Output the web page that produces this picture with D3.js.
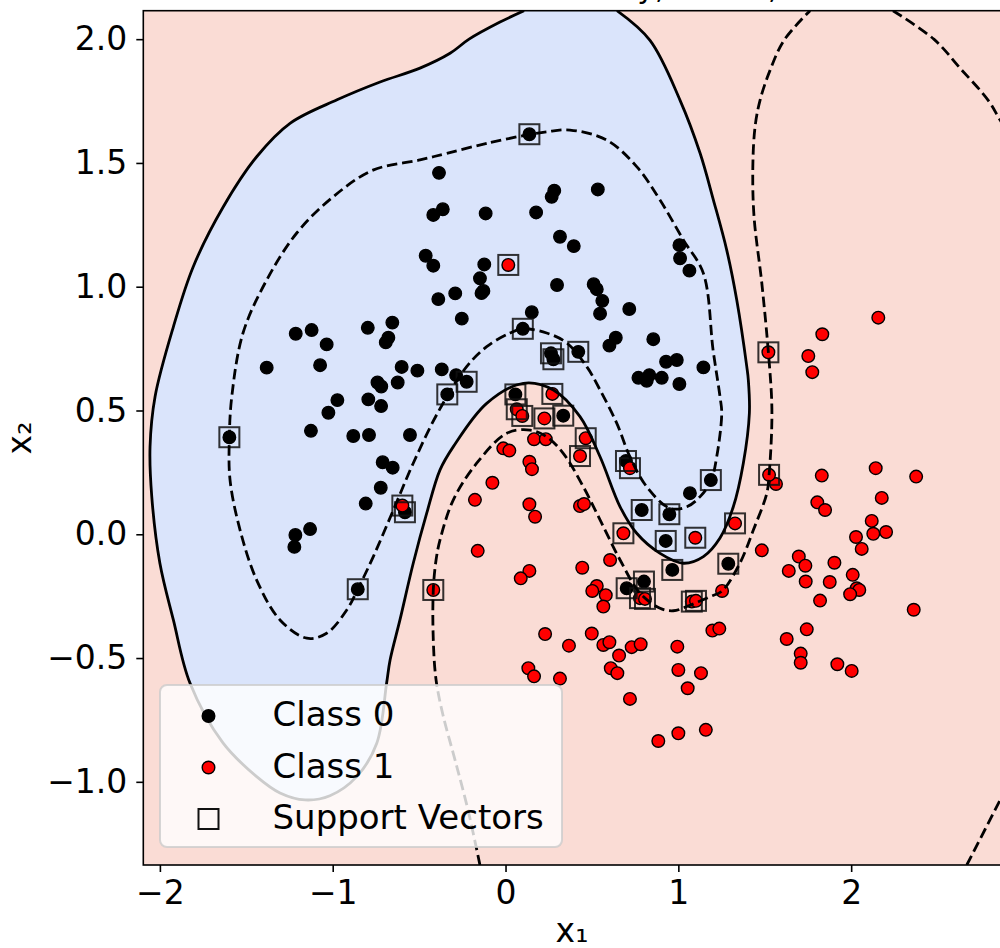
<!DOCTYPE html>
<html>
<head>
<meta charset="utf-8">
<script src="https://cdn.jsdelivr.net/npm/d3@7"></script>
<style>
  body { margin: 0; background: #fff; }
  svg { display: block; font-family: "DejaVu Sans", sans-serif; }
</style>
</head>
<body>
<div id="chart"></div>
<script>
// class 0 points that are not support vectors
const class0 = [
  [-0.385,1.460],[-0.418,1.290],[-0.462,1.125],[-0.418,1.085],[-0.389,0.950],
  [-1.214,0.810],[-1.122,0.825],[-1.035,0.767],[-0.797,0.834],[-0.655,0.855],
  [-0.678,0.794],[-0.693,0.775],[-1.382,0.673],[-1.073,0.683],[-0.601,0.676],
  [-0.510,0.661],[-0.741,0.613],[-0.719,0.597],[-0.624,0.613],[-0.973,0.542],
  [-1.025,0.491],[-0.794,0.545],[-0.720,0.518],[-1.126,0.418],[-0.881,0.397],
  [-0.790,0.401],[-0.553,0.401],[-0.711,0.291],[-0.653,0.269],[-0.722,0.188],
  [-0.809,0.124],[-1.131,0.021],[-1.216,-0.003],[-1.222,-0.051],
  [0.282,1.388],[0.267,1.363],[0.534,1.393],[-0.363,1.313],[-0.115,1.296],
  [0.177,1.300],[0.315,1.202],[0.395,1.164],[1.006,1.168],[1.010,1.115],
  [1.064,1.065],[-0.123,1.090],[-0.148,1.034],[-0.128,0.983],[-0.139,0.974],
  [-0.291,0.973],[0.298,1.007],[0.510,1.010],[0.528,0.990],[0.560,0.943],
  [0.547,0.891],[0.716,0.910],[-0.253,0.871],[0.152,0.897],[0.638,0.794],
  [0.601,0.762],[0.855,0.788],[0.929,0.697],[0.991,0.704],[1.145,0.674],
  [0.769,0.632],[0.832,0.643],[0.817,0.620],[0.904,0.632],[1.006,0.607],
  [-0.369,0.666],[-0.286,0.643],[1.067,0.166]
];
// class 0 support vectors
const class0SV = [
  [0.138,1.616],[-1.598,0.392],[-0.582,0.089],[-0.855,-0.222],[0.100,0.830],
  [0.263,0.731],[0.277,0.707],[0.421,0.737],[-0.225,0.616],[-0.337,0.565],
  [0.057,0.565],[0.334,0.479],[0.697,0.296],[1.188,0.219],[0.788,0.098],
  [0.948,0.081],[0.927,-0.027],[0.965,-0.144],[1.289,-0.119],[0.701,-0.218],[0.801,-0.191]
];
// class 1 points that are not support vectors
const class1 = [
  [2.157,0.875],[1.833,0.808],[1.752,0.720],[1.775,0.655],[1.565,0.203],
  [1.830,0.237],[2.142,0.267],[2.376,0.233],[2.177,0.147],[1.804,0.129],
  [1.849,0.098],[2.119,0.054],[2.028,-0.011],[2.128,0.002],[2.202,0.009],
  [2.061,-0.059],[1.483,-0.065],[1.697,-0.090],[1.735,-0.127],[1.639,-0.148],
  [1.903,-0.115],[1.737,-0.191],[1.876,-0.193],[2.009,-0.164],[2.032,-0.218],
  [2.047,-0.225],[1.994,-0.242],[1.820,-0.268],[2.362,-0.305],[1.253,-0.229],
  [1.197,-0.389],[1.237,-0.381],[1.743,-0.384],[1.627,-0.423],[1.708,-0.482],
  [1.708,-0.519],[1.920,-0.525],[2.003,-0.552],[1.131,-0.561],
  [0.165,0.384],[0.233,0.384],[-0.013,0.347],[0.022,0.338],[0.138,0.293],
  [0.153,0.263],[-0.076,0.208],[-0.177,0.139],[0.138,0.121],[0.171,0.071],
  [0.431,0.114],[0.454,0.122],[-0.161,-0.067],[0.605,-0.104],[0.444,-0.135],
  [0.138,-0.148],[0.088,-0.178],[0.528,-0.209],[0.502,-0.229],[0.580,-0.246],
  [0.566,-0.292],[0.229,-0.403],[0.367,-0.450],[0.499,-0.401],[0.566,-0.447],
  [0.601,-0.436],[0.657,-0.490],[0.730,-0.456],[0.782,-0.444],[0.994,-0.454],
  [0.132,-0.541],[0.165,-0.574],[0.315,-0.583],[0.609,-0.541],[0.647,-0.561],
  [1.000,-0.548],[1.054,-0.622],[0.720,-0.665],[0.884,-0.835],[1.000,-0.804],[1.159,-0.790]
];
// class 1 support vectors
const class1SV = [
  [0.016,1.088],[-0.597,0.116],[-0.418,-0.225],[0.271,0.567],[0.065,0.505],
  [0.097,0.478],[0.225,0.468],[0.464,0.388],[0.431,0.316],[0.720,0.267],
  [0.682,0.004],[1.098,-0.014],[0.778,-0.258],[0.807,-0.261],[1.078,-0.272],
  [1.102,-0.269],[1.521,0.735],[1.525,0.240],[1.328,0.044]
];

// decision function = 0 (traced), open at the top edge
const boundary = [
  [0.107,2.115],[-0.032,2.069],[-0.211,2.000],[-0.321,1.943],[-0.495,1.883],
  [-0.726,1.827],[-0.975,1.755],[-1.247,1.660],[-1.440,1.525],[-1.633,1.323],
  [-1.807,1.081],[-1.922,0.838],[-2.028,0.556],[-2.057,0.354],[-2.047,0.152],
  [-2.000,-0.117],[-1.922,-0.346],[-1.826,-0.601],[-1.635,-0.843],[-1.440,-0.979],
  [-1.305,-1.045],[-1.160,-1.073],[-1.016,-1.056],[-0.861,-0.979],[-0.745,-0.844],
  [-0.688,-0.601],[-0.668,-0.508],[-0.611,-0.346],[-0.534,-0.117],[-0.456,0.085],
  [-0.379,0.260],[-0.302,0.354],[-0.109,0.529],[0.103,0.610],[0.277,0.583],
  [0.431,0.475],[0.547,0.313],[0.663,0.111],[0.759,0.004],[0.894,-0.077],
  [1.029,-0.117],[1.145,-0.090],[1.241,-0.015],[1.318,0.111],[1.376,0.287],
  [1.411,0.489],[1.405,0.623],[1.396,0.677],[1.338,0.946],[1.280,1.148],
  [1.203,1.350],[1.126,1.539],[1.010,1.753],[0.836,1.995],[0.645,2.115]
];
// decision function = +1 margin (closed loop inside class 0 region)
const marginIn = [
  [0.138,1.615],[-0.109,1.579],[-0.340,1.539],[-0.495,1.512],[-0.767,1.471],
  [-0.998,1.363],[-1.208,1.217],[-1.382,1.027],[-1.519,0.813],[-1.584,0.556],
  [-1.598,0.392],[-1.594,0.219],[-1.536,0.017],[-1.440,-0.185],[-1.305,-0.346],
  [-1.150,-0.420],[-1.035,-0.400],[-0.919,-0.306],[-0.855,-0.222],[-0.765,-0.090],
  [-0.649,0.098],[-0.534,0.287],[-0.389,0.495],[-0.225,0.677],[-0.109,0.758],
  [0.026,0.813],[0.100,0.830],[0.238,0.813],[0.354,0.773],[0.470,0.677],
  [0.547,0.583],[0.644,0.448],[0.720,0.313],[0.817,0.192],[0.952,0.105],
  [1.049,0.111],[1.126,0.152],[1.189,0.216],[1.222,0.313],[1.251,0.489],
  [1.241,0.556],[1.201,0.744],[1.145,1.054],[1.029,1.189],[0.894,1.350],
  [0.759,1.485],[0.586,1.592],[0.373,1.633],[0.238,1.626]
];
// decision function = -1 margin, three visible pieces
const marginOut = [
  [[-0.148,-1.336],[-0.217,-1.114],[-0.292,-0.912],[-0.362,-0.730],[-0.402,-0.588],
   [-0.418,-0.427],[-0.418,-0.225],[-0.402,-0.104],[-0.379,-0.023],[-0.302,0.139],
   [-0.167,0.287],[0.007,0.408],[0.142,0.421],[0.238,0.394],[0.334,0.327],
   [0.450,0.192],[0.547,0.058],[0.663,-0.104],[0.778,-0.238],[0.894,-0.299],
   [0.971,-0.309],[1.049,-0.292],[1.183,-0.252],[1.253,-0.229],[1.356,-0.117],
   [1.434,0.017],[1.512,0.166],[1.525,0.240],[1.540,0.421],[1.540,0.542],
   [1.521,0.735],[1.483,1.014],[1.438,1.283],[1.431,1.485],[1.444,1.646],
   [1.473,1.754],[1.531,1.875],[1.612,1.996],[1.762,2.115]],
  [[2.242,2.115],[2.480,1.999],[2.630,1.883],[2.792,1.754],[2.862,1.673],[2.949,1.572]],
  [[2.669,-1.336],[2.862,-1.073],[2.949,-0.951]]
];

const xTicks = [-2, -1, 0, 1, 2];
const yTicks = [-1.0, -0.5, 0.0, 0.5, 1.0, 1.5, 2.0];
const legendItems = ['Class 0', 'Class 1', 'Support Vectors'];

const W = 1000, H = 948;
const plot = {left: 143.3, right: 1001, top: 10.7, bottom: 865};

const x = d3.scaleLinear().domain([-2.096, 2.867]).range([plot.left, plot.right]);
const y = d3.scaleLinear().domain([-1.336, 2.115]).range([plot.bottom, plot.top]);

const svg = d3.select('#chart').append('svg')
    .attr('width', W)
    .attr('height', H);

svg.append('defs').append('clipPath')
    .attr('id', 'clip')
    .append('rect')
    .attr('x', plot.left).attr('y', plot.top)
    .attr('width', plot.right - plot.left)
    .attr('height', plot.bottom - plot.top);

// title, almost fully above the top of the picture
svg.append('text')
    .attr('x', 572)
    .attr('y', -2.5)
    .attr('text-anchor', 'middle')
    .attr('font-size', '30px')
    .text('SVM Decision Boundary, C=1.0, RBF');

const area = svg.append('g').attr('clip-path', 'url(#clip)');

area.append('rect')
    .attr('x', plot.left).attr('y', plot.top)
    .attr('width', plot.right - plot.left)
    .attr('height', plot.bottom - plot.top)
    .attr('fill', '#fadcd5');

const line = d3.line().x(d => x(d[0])).y(d => y(d[1])).curve(d3.curveCatmullRom.alpha(0.5));
const loop = d3.line().x(d => x(d[0])).y(d => y(d[1])).curve(d3.curveCatmullRomClosed.alpha(0.5));

area.append('path')
    .attr('d', line(boundary) + 'Z')
    .attr('fill', '#dae4fb');

// points
area.selectAll('.c0')
    .data(class0.concat(class0SV))
    .enter()
    .append('circle')
    .attr('cx', d => x(d[0]))
    .attr('cy', d => y(d[1]))
    .attr('r', 6.3)
    .attr('fill', '#000')
    .attr('stroke', '#000')
    .attr('stroke-width', 1.3);

area.selectAll('.c1')
    .data(class1.concat(class1SV))
    .enter()
    .append('circle')
    .attr('cx', d => x(d[0]))
    .attr('cy', d => y(d[1]))
    .attr('r', 6.3)
    .attr('fill', '#ff0000')
    .attr('stroke', '#000')
    .attr('stroke-width', 1.4);

const sq = 20;
area.selectAll('.sv')
    .data(class0SV.concat(class1SV))
    .enter()
    .append('rect')
    .attr('x', d => x(d[0]) - sq / 2)
    .attr('y', d => y(d[1]) - sq / 2)
    .attr('width', sq)
    .attr('height', sq)
    .attr('fill', 'none')
    .attr('stroke', '#111')
    .attr('stroke-opacity', 0.85)
    .attr('stroke-width', 2);

// contour lines
area.append('path')
    .attr('d', line(boundary))
    .attr('fill', 'none')
    .attr('stroke', '#000')
    .attr('stroke-width', 2.8);

area.append('path')
    .attr('d', loop(marginIn))
    .attr('fill', 'none')
    .attr('stroke', '#000')
    .attr('stroke-width', 2.8)
    .attr('stroke-dasharray', '10.5,4.8');

marginOut.forEach(seg => {
    area.append('path')
        .attr('d', line(seg))
        .attr('fill', 'none')
        .attr('stroke', '#000')
        .attr('stroke-width', 2.8)
        .attr('stroke-dasharray', '10.5,4.8');
});

// legend
const lg = svg.append('g');
lg.append('rect')
    .attr('x', 160).attr('y', 685)
    .attr('width', 402).attr('height', 162)
    .attr('rx', 7)
    .attr('fill', '#fff')
    .attr('fill-opacity', 0.8)
    .attr('stroke', '#cccccc')
    .attr('stroke-opacity', 0.8)
    .attr('stroke-width', 2);

legendItems.forEach((name, i) => {
    const cy = 716 + i * 51.5;
    if (i < 2) {
        lg.append('circle')
            .attr('cx', 208.5).attr('cy', cy).attr('r', 6.3)
            .attr('fill', i === 0 ? '#000' : '#ff0000')
            .attr('stroke', '#000').attr('stroke-width', 1.4);
    } else {
        lg.append('rect')
            .attr('x', 208.5 - sq / 2).attr('y', cy - sq / 2)
            .attr('width', sq).attr('height', sq)
            .attr('fill', 'none').attr('stroke', '#111').attr('stroke-width', 2);
    }
    lg.append('text')
        .attr('x', 272.5)
        .attr('y', cy + 10)
        .attr('font-size', '34px')
        .text(name);
});

// spines
svg.append('rect')
    .attr('x', plot.left).attr('y', plot.top)
    .attr('width', plot.right - plot.left)
    .attr('height', plot.bottom - plot.top)
    .attr('fill', 'none')
    .attr('stroke', '#000')
    .attr('stroke-width', 1.6);

// axes
const xAxis = svg.append('g')
    .attr('transform', `translate(0,${plot.bottom})`)
    .call(d3.axisBottom(x).tickValues(xTicks).tickSizeOuter(0).tickSize(7).tickPadding(9)
        .tickFormat(d => d3.format('d')(d).replace('-', '\u2212')));
xAxis.select('.domain').remove();
xAxis.selectAll('line').attr('stroke-width', 1.6);
xAxis.selectAll('text').attr('font-size', '33px').attr('font-family', '"DejaVu Sans", sans-serif').attr('fill', '#000');

const yAxis = svg.append('g')
    .attr('transform', `translate(${plot.left},0)`)
    .call(d3.axisLeft(y).tickValues(yTicks).tickSizeOuter(0).tickSize(7).tickPadding(9)
        .tickFormat(d => d3.format('.1f')(d).replace('-', '\u2212')));
yAxis.select('.domain').remove();
yAxis.selectAll('line').attr('stroke-width', 1.6);
yAxis.selectAll('text').attr('font-size', '33px').attr('font-family', '"DejaVu Sans", sans-serif').attr('fill', '#000');

// axis labels
svg.append('text')
    .attr('x', 572)
    .attr('y', 942)
    .attr('text-anchor', 'middle')
    .attr('font-size', '33px')
    .text('x\u2081');

svg.append('text')
    .attr('transform', 'translate(31,438) rotate(-90)')
    .attr('text-anchor', 'middle')
    .attr('font-size', '33px')
    .text('x\u2082');
</script>
</body>
</html>
